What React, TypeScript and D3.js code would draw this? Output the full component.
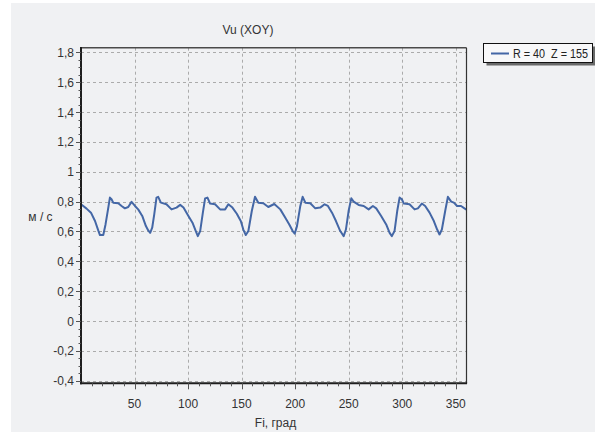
import React from 'react';
import * as d3 from 'd3';

const phi = [
  0, 5.2, 9.3, 13.1, 16.1, 17.7, 20.8, 22.9, 25.5, 27.0,
  28.5, 30.1, 34.8, 37.9, 41.0, 44.1, 47.2, 50.4, 53.4, 57.2,
  60.6, 62.8, 64.6, 66.5, 68.4, 70.5, 72.1, 74.6, 79.8, 84.5,
  89.2, 92.6, 95.7, 100.3, 104.1, 107.2, 109.1, 111.3, 113.8, 115.9,
  118.1, 120.6, 125.2, 129.9, 134.6, 137.6, 141.4, 145.5, 149.2, 151.6,
  153.9, 156.3, 159.5, 162.5, 165.6, 170.3, 174.9, 180.5, 186.1, 190.8,
  194.5, 197.7, 199.6, 201.7, 204.8, 207.0, 209.5, 214.1, 218.8, 223.4,
  227.5, 230.6, 234.4, 238.1, 242.1, 245.3, 247.4, 249.9, 252.4, 254.6,
  259.3, 264.0, 268.6, 272.6, 275.7, 280.3, 285.0, 288.2, 290.3, 292.8,
  295.3, 297.5, 299.6, 301.5, 306.8, 311.5, 314.6, 318.3, 321.4, 325.5,
  329.5, 332.6, 334.8, 337.0, 340.1, 342.6, 345.7, 348.2, 351.2, 354.9,
  358.1, 360,
];

const vu = [
  0.782, 0.753, 0.726, 0.67, 0.607, 0.576, 0.576, 0.647, 0.76, 0.827,
  0.816, 0.793, 0.789, 0.771, 0.755, 0.764, 0.798, 0.771, 0.748, 0.704,
  0.636, 0.607, 0.591, 0.625, 0.715, 0.827, 0.832, 0.793, 0.782, 0.748,
  0.76, 0.778, 0.76, 0.704, 0.659, 0.603, 0.569, 0.603, 0.726, 0.822,
  0.827, 0.787, 0.782, 0.748, 0.748, 0.782, 0.76, 0.719, 0.67, 0.613,
  0.576, 0.603, 0.737, 0.832, 0.793, 0.789, 0.764, 0.784, 0.748, 0.692,
  0.647, 0.603, 0.585, 0.636, 0.771, 0.832, 0.793, 0.789, 0.755, 0.76,
  0.782, 0.771, 0.726, 0.67, 0.603, 0.569, 0.613, 0.737, 0.822, 0.8,
  0.778, 0.771, 0.748, 0.771, 0.755, 0.704, 0.647, 0.591, 0.569, 0.603,
  0.737, 0.827, 0.816, 0.787, 0.782, 0.748, 0.755, 0.787, 0.771, 0.726,
  0.67, 0.613, 0.58, 0.613, 0.737, 0.832, 0.8, 0.793, 0.771, 0.771,
  0.755, 0.746,
];

const xTickValues = [50, 100, 150, 200, 250, 300, 350];
const yTickValues = [-0.4, -0.2, 0, 0.2, 0.4, 0.6, 0.8, 1, 1.2, 1.4, 1.6, 1.8];
const chartTitle = 'Vu (XOY)';
const xTitle = 'Fi, град';
const yTitle = 'м / с';
const seriesName = 'R = 40  Z = 155';

const W = 595;
const H = 434;
const L = 81;
const R = 466.5;
const T = 47.7;
const B = 383.3;
const FONT = "'Liberation Sans', Arial, sans-serif";
const LINE_COLOR = '#4467a6';
const GRID = '#ababab';

export default function App() {
  const x = d3.scaleLinear().domain([0, 360]).range([L, R]);
  const y = d3.scaleLinear().domain([-0.417, 1.831]).range([B, T]);
  const pts = phi.map((p, i) => [p, vu[i]] as [number, number]);
  const line = d3
    .line<[number, number]>()
    .x((d) => x(d[0]))
    .y((d) => y(d[1]));
  const fmt = (v: number) => String(+v.toFixed(1)).replace('.', ',');
  const minorX = d3.range(10, 360, 10).filter((v) => v % 50 !== 0);
  const minorY = d3
    .range(-8, 37)
    .map((k) => k * 0.05)
    .filter((v) => Math.abs(Math.round(v * 5) - v * 5) > 1e-6);

  return (
    <svg
      width={W}
      height={H}
      style={{ position: 'absolute', left: 0, top: 0, display: 'block' }}
    >
      <defs>
        <clipPath id="plotClip">
          <rect x={L} y={T} width={R - L} height={B - T} />
        </clipPath>
      </defs>
      <rect x={0} y={0} width={W} height={H} fill="#ffffff" />
      <rect x={11} y={3} width={W - 11} height={429} fill="#f0f1f3" />

      {/* grid */}
      <g stroke={GRID} strokeWidth={1} strokeDasharray="3,3" fill="none">
        {yTickValues.map((v) => (
          <line key={'gy' + v} x1={L} x2={R} y1={Math.round(y(v)) + 0.5} y2={Math.round(y(v)) + 0.5} />
        ))}
        {xTickValues.map((v) => (
          <line key={'gx' + v} x1={Math.round(x(v)) + 0.5} x2={Math.round(x(v)) + 0.5} y1={T} y2={B} />
        ))}
      </g>

      {/* series */}
      <path
        d={line(pts) || ''}
        fill="none"
        stroke={LINE_COLOR}
        strokeWidth={2}
        strokeLinejoin="round"
        clipPath="url(#plotClip)"
      />

      {/* frame */}
      <line x1={L} x2={R} y1={T} y2={T} stroke="#4a4a4a" strokeWidth={1.5} />
      <line x1={R} x2={R} y1={T} y2={B} stroke="#333" strokeWidth={1.2} />
      <line x1={L} x2={L} y1={T - 0.75} y2={B + 1} stroke="#1e1e1e" strokeWidth={2} />
      <line x1={L - 1} x2={R + 0.6} y1={B} y2={B} stroke="#1e1e1e" strokeWidth={2} />

      {/* ticks */}
      <g stroke="#555" strokeWidth={1}>
        {yTickValues.map((v) => (
          <line key={'ty' + v} x1={L - 5} x2={L} y1={Math.round(y(v)) + 0.5} y2={Math.round(y(v)) + 0.5} />
        ))}
        {minorY.map((v) => (
          <line key={'my' + v} x1={L - 2.5} x2={L} y1={Math.round(y(v)) + 0.5} y2={Math.round(y(v)) + 0.5} />
        ))}
        {xTickValues.map((v) => (
          <line key={'tx' + v} x1={Math.round(x(v)) + 0.5} x2={Math.round(x(v)) + 0.5} y1={B} y2={B + 6} />
        ))}
        {minorX.map((v) => (
          <line key={'mx' + v} x1={Math.round(x(v)) + 0.5} x2={Math.round(x(v)) + 0.5} y1={B} y2={B + 3} />
        ))}
      </g>

      {/* tick labels */}
      <g fontFamily={FONT} fontSize={12} fill="#333">
        {yTickValues.map((v) => (
          <text key={'ly' + v} x={74} y={y(v) + 4.5} textAnchor="end">
            {fmt(v)}
          </text>
        ))}
        {xTickValues.map((v) => (
          <text key={'lx' + v} x={x(v)} y={408} textAnchor="middle">
            {fmt(v)}
          </text>
        ))}
      </g>

      {/* titles */}
      <g fontFamily={FONT} fontSize={12} fill="#333">
        <text x={248} y={33.5} textAnchor="middle">
          {chartTitle}
        </text>
        <text x={40.5} y={220.5} textAnchor="middle">
          {yTitle}
        </text>
        <text x={275.5} y={426.5} textAnchor="middle">
          {xTitle}
        </text>
      </g>

      {/* legend */}
      <g>
        <rect x={486.5} y={46.5} width={109} height={19} fill="#3c3c3c" opacity={0.75} />
        <rect x={483.5} y={43.5} width={109} height={19} fill="#f8f8f9" stroke="#111" strokeWidth={1} />
        <line x1={491} x2={509} y1={53.5} y2={53.5} stroke={LINE_COLOR} strokeWidth={2} />
        <text
          x={513}
          y={57.5}
          fontFamily={FONT}
          fontSize={12}
          fill="#222"
          textLength={75}
          lengthAdjust="spacingAndGlyphs"
          style={{ whiteSpace: 'pre' }}
        >
          {seriesName}
        </text>
      </g>
    </svg>
  );
}
